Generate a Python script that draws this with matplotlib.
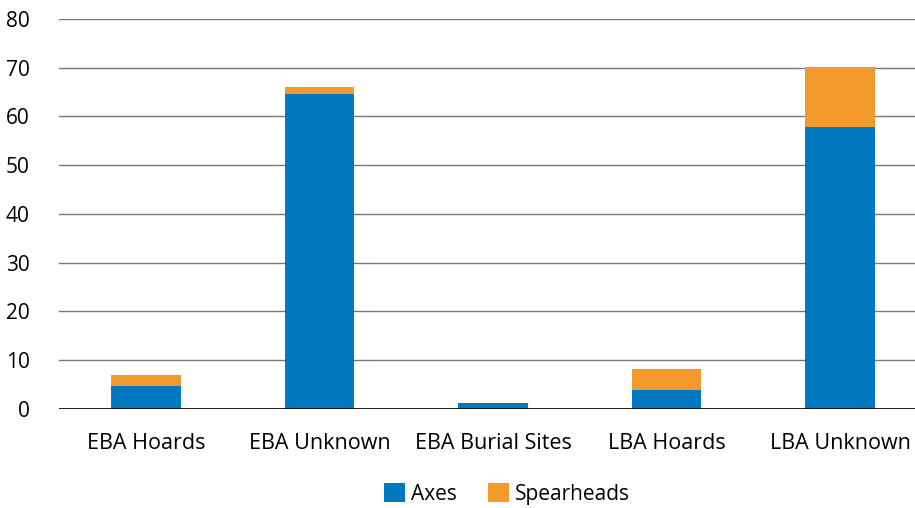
import matplotlib
matplotlib.use("Agg")
import matplotlib.pyplot as plt
import numpy as np

categories = ["EBA Hoards", "EBA Unknown", "EBA Burial Sites", "LBA Hoards", "LBA Unknown"]
axes_vals = [4.8, 64.5, 1.3, 3.8, 57.8]
spear_vals = [2.2, 1.5, 0.0, 4.3, 12.3]
yticks = [0, 10, 20, 30, 40, 50, 60, 70, 80]

plt.rcParams['font.family'] = ['Open Sans', 'DejaVu Sans']

fig = plt.figure(figsize=(9.15, 5.08), dpi=100)
ax = fig.add_axes([0.0645, 0.195, 0.9486, 0.768])

x = np.arange(len(categories))
w = 0.4
ax.bar(x, axes_vals, width=w, color="#0079c1", label="Axes", zorder=3)
ax.bar(x, spear_vals, width=w, bottom=axes_vals, color="#f39a2d", label="Spearheads", zorder=3)

ax.set_xlim(-0.5, len(categories) - 0.5)
ax.set_ylim(0, 80)
ax.set_yticks(yticks)
ax.yaxis.grid(True, color="#777777", linewidth=1.0, zorder=0)
ax.axhline(0, color="black", linewidth=1.2, zorder=4)
for s in ax.spines.values():
    s.set_visible(False)
ax.tick_params(axis='y', length=0, labelsize=15, pad=21)
ax.tick_params(axis='x', length=0, labelsize=15.5, pad=17)
ax.set_xticks(x)
ax.set_xticklabels(categories)

fig.legend(*ax.get_legend_handles_labels(), loc="center", bbox_to_anchor=(0.554, 0.028),
           bbox_transform=fig.transFigure, ncol=2, frameon=False,
           fontsize=15, handlelength=1.0, handleheight=1.0, handletextpad=0.3,
           columnspacing=1.5, borderpad=0.1)

fig.savefig("out.png", dpi=100)
